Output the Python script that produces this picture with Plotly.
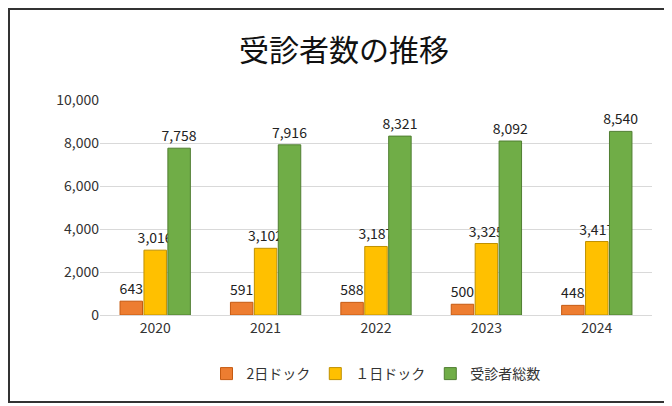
import plotly.graph_objects as go

years = ["2020", "2021", "2022", "2023", "2024"]
dock2 = [643, 591, 588, 500, 448]
dock1 = [3016, 3102, 3187, 3325, 3417]
total = [7758, 7916, 8321, 8092, 8540]
names = ["2日ドック", "１日ドック", "受診者総数"]
colors = ["#ED7D31", "#FFC000", "#70AD47"]
lines = ["#C55A11", "#BF9000", "#507E32"]

fig = go.Figure()
for n, v, c, lc in zip(names, [dock2, dock1, total], colors, lines):
    fig.add_trace(go.Bar(x=years, y=v, name=n, marker=dict(color=c, line=dict(color=lc, width=1)),
                         text=[f"{a:,}" for a in v], textposition="outside",
                         constraintext="none",
                         textfont=dict(size=14, color="#222"), cliponaxis=False))

W, H, L, R, T, B = 672, 406, 92, 28, 92, 99
pw, ph = W - L - R, H - T - B
fig.update_layout(
    width=W, height=H, margin=dict(l=L, r=R, t=T, b=B),
    paper_bgcolor="white", plot_bgcolor="white",
    font=dict(family="Noto Sans CJK JP", size=14, color="#333"),
    title=dict(text="受診者数の推移", x=0.5, y=0.92, xanchor="center",
               font=dict(size=30, color="#111")),
    barmode="group", bargap=0.35, bargroupgap=0.06,
    yaxis=dict(range=[0, 10000], dtick=2000, tickformat=",", gridcolor="#D9D9D9",
               showline=False, zeroline=False, ticks="", ticklen=0),
    xaxis=dict(showline=True, linecolor="#D9D9D9"),
    legend=dict(orientation="h", x=0.5, xanchor="center", y=-0.2, yanchor="top",
                font=dict(size=14)),
    shapes=[dict(type="rect", xref="paper", yref="paper",
                 x0=(1 - L) / pw, x1=(661 - L) / pw, y0=-(394 - (H - B)) / ph, y1=(H - B - 1) / ph,
                 line=dict(color="#333", width=2))],
)
fig.write_html("out.html")
